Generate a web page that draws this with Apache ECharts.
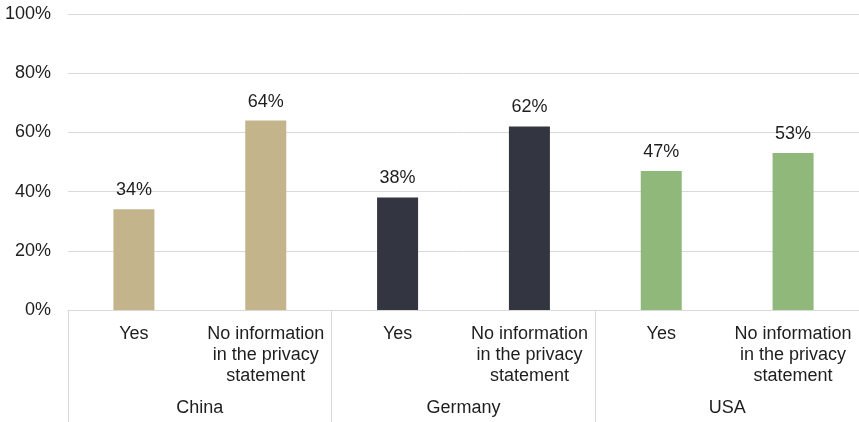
<!DOCTYPE html>
<html>
<head>
<meta charset="utf-8">
<script src="https://cdn.jsdelivr.net/npm/echarts@6/dist/echarts.min.js"></script>
<style>
  html, body { margin: 0; padding: 0; background: #fff; }
  #chart { width: 859px; height: 422px; }
</style>
</head>
<body>
<div id="chart"></div>
<script>
// Answer options shown for each country
const answers = ['Yes', 'No information\nin the privacy\nstatement'];
const countries = ['China', 'Germany', 'USA'];
const countryColors = ['#c4b48c', '#333640', '#8fb87a'];

// Share of respondents (%) per country, in the order of `answers`
const chinaValues = [34, 64];
const germanyValues = [38, 62];
const usaValues = [47, 53];

const yTicks = [0, 20, 40, 60, 80, 100];

const groupValues = [chinaValues, germanyValues, usaValues];
const categories = [];
const barData = [];
countries.forEach((c, gi) => {
  answers.forEach((a, ai) => {
    categories.push(a);
    barData.push({ value: groupValues[gi][ai], itemStyle: { color: countryColors[gi] } });
  });
});

const textColor = '#1e1e1e';
const lineColor = '#d9d9d9';
const font = 'Liberation Sans, Arial, sans-serif';

const chart = echarts.init(document.getElementById('chart'), null, { renderer: 'canvas' });
chart.setOption({
  animation: false,
  grid: { left: 68, right: 0, top: 14, bottom: 112, containLabel: false, outerBoundsMode: 'none' },
  yAxis: {
    type: 'value',
    min: yTicks[0],
    max: yTicks[yTicks.length - 1],
    interval: 20,
    axisLine: { show: false },
    axisTick: { show: false },
    splitLine: { lineStyle: { color: lineColor, width: 1 } },
    axisLabel: { formatter: '{value}%', color: textColor, fontSize: 18, fontFamily: font, margin: 17 }
  },
  xAxis: [
    {
      type: 'category',
      data: categories,
      position: 'bottom',
      axisLine: { show: true, lineStyle: { color: lineColor, width: 1 } },
      axisTick: { show: false },
      axisLabel: { interval: 0, color: textColor, fontSize: 18, fontFamily: font, lineHeight: 21, margin: 14, align: 'center' }
    },
    {
      type: 'category',
      data: countries,
      position: 'bottom',
      axisLine: { show: false },
      axisTick: { show: true, interval: 0, length: 112, lineStyle: { color: lineColor, width: 1 } },
      axisLabel: { interval: 0, color: textColor, fontSize: 18, fontFamily: font, margin: 89 }
    }
  ],
  series: [{
    type: 'bar',
    xAxisIndex: 0,
    barWidth: 41,
    data: barData,
    label: {
      show: true,
      position: 'top',
      distance: 10,
      formatter: '{c}%',
      color: textColor,
      fontSize: 18,
      fontFamily: font
    }
  }]
});
</script>
</body>
</html>
